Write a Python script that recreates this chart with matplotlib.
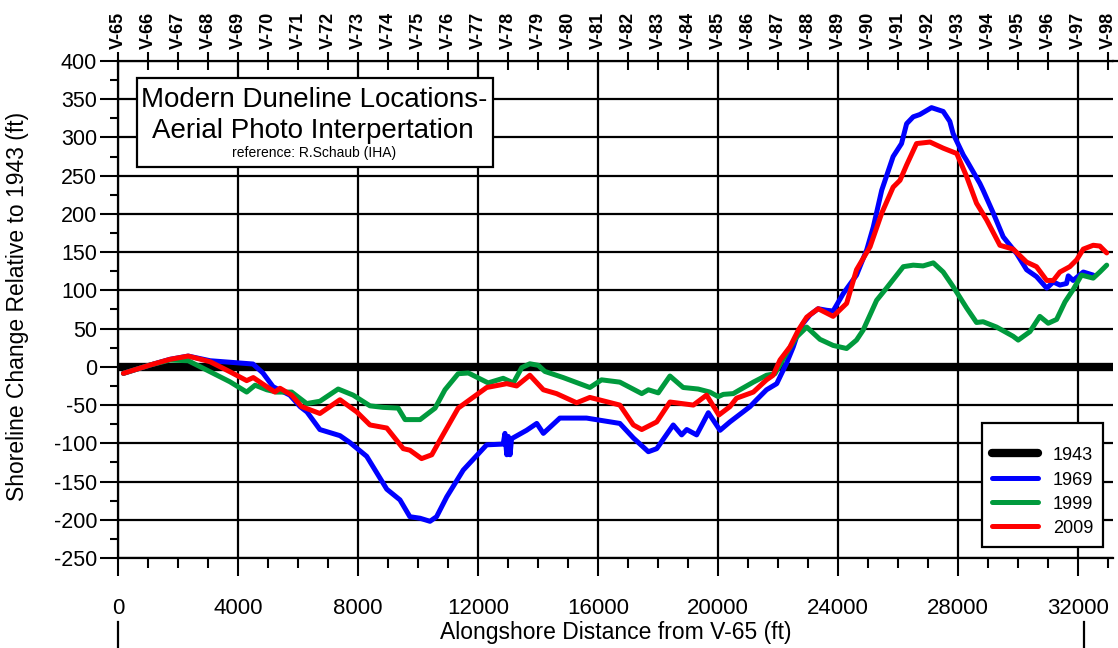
import matplotlib
matplotlib.use("Agg")
import matplotlib.pyplot as plt
import matplotlib.transforms as mtransforms
from matplotlib.ticker import MultipleLocator, NullLocator
from matplotlib.patches import Rectangle

plt.rcParams['font.family'] = ['Liberation Sans', 'DejaVu Sans']
plt.rcParams['axes.unicode_minus'] = False

# ---- survey data: alongshore distance (ft) and shoreline change (ft) ----
dist_1943 = [0, 33170]
shore_1943 = [0, 0]

dist_1969 = [180, 1070, 1730, 2340, 3070, 4500, 4830, 5170, 5730, 6070, 6300, 6730,
             7400, 7730, 8290, 8960, 9400, 9730, 10070, 10400, 10620, 10960, 11510,
             12290, 12840, 12900, 12960, 13010, 13070, 13120, 13620, 13960, 14180,
             14730, 15620, 16730, 17180, 17680, 17960, 18510, 18790, 18960, 19290,
             19680, 20070, 20400, 21070, 21290, 21620, 21960, 22290, 22510, 22620,
             22840, 23070, 23340, 23620, 23840, 24180, 24620, 24960, 25180, 25460,
             25840, 26120, 26290, 26510, 26730, 27120, 27510, 27730, 27840, 28180,
             28290, 28730, 28840, 29180, 29510, 29960, 30290, 30620, 30960, 31180,
             31400, 31620, 31680, 31840, 32180, 32510]
shore_1969 = [-8.5, 2.4, 9.8, 14.1, 8, 3.7, -8, -26, -37, -52, -59, -82,
              -90, -99, -117, -160, -174, -196, -198, -202, -196, -170, -135,
              -102, -101, -87, -115, -91, -115, -94, -83, -74, -87,
              -67, -67, -74, -93, -111, -107, -76, -89, -82, -89,
              -60, -83, -72, -52, -43, -30, -22, 5, 26, 39,
              57, 68, 76, 74, 73, 96, 120, 153, 183, 231,
              275, 292, 318, 327, 330, 339, 334, 321, 305, 277,
              270, 240, 231, 201, 170, 148, 127, 118, 103, 111,
              107, 109, 119, 113, 124, 120]

dist_1999 = [180, 1070, 1730, 2340, 3070, 3730, 4290, 4570, 4960, 5290, 5790, 6290,
             6730, 7340, 7840, 8400, 8840, 9340, 9570, 10070, 10570, 10900, 11340,
             11680, 12340, 12840, 13180, 13460, 13730, 14010, 14230, 14840, 15730,
             16120, 16730, 17460, 17680, 18010, 18400, 18840, 19340, 19730, 20010,
             20180, 20510, 20730, 21180, 21620, 21900, 22290, 22620, 22960, 23400,
             23840, 24290, 24620, 24840, 25290, 25620, 25840, 26180, 26510, 26840,
             27180, 27510, 27840, 28290, 28620, 28840, 29290, 29840, 30010, 30400,
             30730, 31010, 31290, 31570, 31840, 32120, 32510, 32730, 32960]
shore_1999 = [-8.5, 2.4, 8.9, 8, -6.4, -19.5, -33, -24, -30, -33, -33, -48,
              -45, -29, -37, -51, -53, -54, -69, -69, -54, -30, -9,
              -8, -21, -15, -21, -1, 4, 2, -6, -14, -27,
              -17, -20, -35, -30, -34, -12, -27, -29, -33, -39,
              -36, -35, -30, -20, -11, -9, 18, 39, 52, 36,
              28, 24, 35, 48, 87, 103, 114, 131, 133, 132,
              136, 124, 105, 77, 58, 59, 52, 40, 35, 46,
              66, 57, 62, 85, 101, 120, 116, 124, 133]

dist_2009 = [180, 1070, 1730, 2340, 3070, 3730, 4290, 4510, 4960, 5230, 5400, 5790,
             6120, 6730, 7400, 7960, 8400, 8960, 9510, 9730, 10120, 10460, 10730,
             11340, 12290, 12960, 13290, 13730, 14180, 14620, 15290, 15730, 16730,
             17180, 17460, 17960, 18400, 19180, 19620, 20030, 20400, 20620, 21180,
             21620, 21840, 22070, 22400, 22680, 22960, 23340, 23840, 24290, 24620,
             25070, 25460, 25840, 26070, 26290, 26620, 27070, 27510, 27960, 28290,
             28620, 28960, 29400, 29840, 30290, 30620, 30960, 31180, 31400, 31730,
             31960, 32180, 32510, 32730, 32960]
shore_2009 = [-8.5, 2.4, 9.8, 14.1, 6.7, -6.4, -18, -14, -26, -33, -28, -37,
              -52, -61, -43, -59, -76, -80, -107, -109, -120, -115, -96,
              -54, -27, -22, -25, -11, -30, -35, -47, -40, -50,
              -76, -82, -72, -46, -50, -37, -63, -52, -41, -33,
              -17, -11, 9, 26, 48, 65, 76, 66, 83, 127,
              157, 201, 235, 244, 264, 292, 294, 286, 279, 249,
              214, 192, 159, 154, 137, 131, 113, 113, 124, 131,
              140, 154, 159, 158, 149]

years = ['1943', '1969', '1999', '2009']
line_colors = ['black', '#0000FF', '#009A3D', '#FF0000']
line_widths = [6.0, 3.6, 3.6, 3.6]

# profile line names along the top axis, one per 1000 ft
profile_pos = list(range(0, 34000, 1000))
profile_names = ['V-%d' % n for n in range(65, 99)]

# short reference marks below the distance axis
edge_marks = [0, 32200]

# ---- figure ----
fig = plt.figure(figsize=(11.18, 6.48), dpi=100)
ax = fig.add_axes([118 / 1118, 90 / 648, 995 / 1118, 497 / 648])
ax.set_xlim(0, 33170)
ax.set_ylim(-250, 400)

series = [(dist_1943, shore_1943), (dist_1969, shore_1969),
          (dist_1999, shore_1999), (dist_2009, shore_2009)]
handles = []
for (xs, ys), yr, c, lw in zip(series, years, line_colors, line_widths):
    h, = ax.plot(xs, ys, color=c, lw=lw, label=yr, solid_capstyle='round',
                 solid_joinstyle='round', zorder=2)
    handles.append(h)

# grid and ticks
ax.xaxis.set_major_locator(MultipleLocator(4000))
ax.xaxis.set_minor_locator(MultipleLocator(1000))
ax.yaxis.set_major_locator(MultipleLocator(50))
ax.yaxis.set_minor_locator(MultipleLocator(25))
ax.set_axisbelow(True)
ax.grid(which='major', color='black', lw=1.6)

ax.tick_params(axis='x', which='major', direction='out', length=13, width=1.5,
               labelsize=16, pad=16, top=False)
ax.tick_params(axis='x', which='minor', direction='out', length=7, width=1.5, top=False)
ax.tick_params(axis='y', which='major', direction='out', length=13, width=1.5,
               labelsize=15.5, pad=2, right=False)
ax.tick_params(axis='y', which='minor', direction='out', length=6, width=1.5, right=False)

for s in ['right', 'top']:
    ax.spines[s].set_visible(False)
for s in ['left', 'bottom']:
    ax.spines[s].set_linewidth(1.6)

# profile names on top
sec = ax.secondary_xaxis('top')
sec.set_xticks(profile_pos, labels=profile_names)
sec.xaxis.set_minor_locator(NullLocator())
sec.tick_params(axis='x', direction='inout', length=13, width=1.5, labelsize=13,
                pad=2, labelrotation=90)
for lbl in sec.get_xticklabels():
    lbl.set_fontweight('bold')
sec.spines['top'].set_linewidth(1.6)
ax.plot([1, 1.01], [1, 1], transform=ax.transAxes, color='black', lw=1.6,
        clip_on=False)

# title box
ax.add_patch(Rectangle((0.0191, 0.7867), 0.3578, 0.1791, transform=ax.transAxes,
                       facecolor='white', edgecolor='black', lw=1.6, zorder=3))
ax.text(0.1975, 0.9074, 'Modern Duneline Locations-', transform=ax.transAxes,
        ha='center', va='baseline', fontsize=20, zorder=4)
ax.text(0.1955, 0.8451, 'Aerial Photo Interpertation', transform=ax.transAxes,
        ha='center', va='baseline', fontsize=20, zorder=4)
ax.text(0.1975, 0.8068, 'reference: R.Schaub (IHA)', transform=ax.transAxes,
        ha='center', va='baseline', fontsize=10, zorder=4)

# legend (a blank title gives the extra room above the first entry)
leg = ax.legend(handles=handles, loc='lower right', bbox_to_anchor=(0.99, 0.022),
                borderaxespad=0, fontsize=13, frameon=True, fancybox=False,
                edgecolor='black', framealpha=1, handlelength=2.55,
                handleheight=1.0, handletextpad=0.83, labelspacing=0.33,
                borderpad=0.55, title=' ', title_fontsize=5)
leg.get_frame().set_linewidth(1.6)

# axis titles
fig.text(18 / 1118, 1 - 306 / 648, 'Shoreline Change Relative to 1943 (ft)',
         rotation=90, ha='center', va='center', fontsize=16.5)
fig.text(616 / 1118, 1 - 633 / 648, 'Alongshore Distance from V-65 (ft)',
         ha='center', va='center', fontsize=16.5)

# reference marks at the bottom edge
trans = mtransforms.blended_transform_factory(ax.transData, fig.transFigure)
for xm in edge_marks:
    ax.plot([xm, xm], [0, 26 / 648], transform=trans, color='black', lw=1.6,
            clip_on=False)

fig.savefig('out.png', dpi=100)
